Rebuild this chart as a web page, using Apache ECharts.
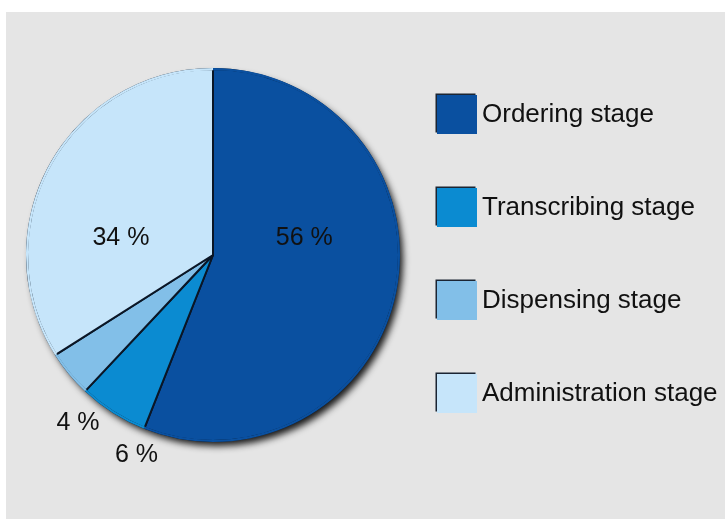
<!DOCTYPE html>
<html>
<head>
<meta charset="utf-8">
<script src="https://cdn.jsdelivr.net/npm/echarts@6/dist/echarts.min.js"></script>
<style>
  html, body { margin: 0; padding: 0; background: #ffffff; }
  #chart { width: 725px; height: 519px; }
</style>
</head>
<body>
<div id="chart"></div>
<script>
// Share of medication errors by stage of the medication process
const stages = ['Ordering stage', 'Transcribing stage', 'Dispensing stage', 'Administration stage'];
const shares = [56, 6, 4, 34];
const stageColors = ['#0a50a0', '#0b8bd1', '#82bfe8', '#c6e5fa'];

// label nudges (px) from the default inside-label anchor
const labelNudge = [[-3, -35], [-25, 119], [-61, 107], [-8, 29]];

const CENTER = [213, 255];
const R = 186;

const pieData = stages.map((name, i) => ({
  name: name,
  value: shares[i],
  itemStyle: { color: stageColors[i] }
}));

const chart = echarts.init(document.getElementById('chart'), null, { renderer: 'canvas' });

chart.setOption({
  animation: false,
  backgroundColor: '#ffffff',
  graphic: [{
    type: 'rect',
    z: -10,
    silent: true,
    shape: { x: 6, y: 12, width: 725, height: 519 },
    style: { fill: '#e5e5e5' }
  }],
  legend: {
    orient: 'vertical',
    left: 437,
    top: 95,
    padding: 0,
    itemWidth: 40,
    itemHeight: 39,
    itemGap: 54,
    icon: 'rect',
    data: stages,
    selectedMode: false,
    itemStyle: {
      borderWidth: 0,
      shadowBlur: 0,
      shadowColor: '#1b2533',
      shadowOffsetX: -1.5,
      shadowOffsetY: -1.5
    },
    textStyle: {
      fontFamily: 'Liberation Sans, Arial, sans-serif',
      fontSize: 26,
      color: '#111111'
    }
  },
  series: [
    {
      // drop shadow under the whole pie
      type: 'pie',
      silent: true,
      z: 1,
      center: CENTER,
      radius: [0, R],
      label: { show: false },
      labelLine: { show: false },
      emphasis: { disabled: true },
      data: [{
        value: 1,
        name: '',
        itemStyle: {
          color: '#222222',
          shadowBlur: 7,
          shadowColor: 'rgba(0,0,0,0.9)',
          shadowOffsetX: 4,
          shadowOffsetY: 5
        }
      }]
    },
    {
      type: 'pie',
      silent: true,
      z: 2,
      center: CENTER,
      radius: [0, R],
      startAngle: 90,
      clockwise: true,
      avoidLabelOverlap: false,
      emphasis: { disabled: true },
      itemStyle: { borderColor: '#0a1626', borderWidth: 2 },
      label: {
        show: true,
        position: 'inside',
        formatter: '{c} %',
        fontFamily: 'Liberation Sans, Arial, sans-serif',
        fontSize: 25,
        color: '#111111'
      },
      labelLine: { show: false },
      labelLayout: function (params) {
        const n = labelNudge[params.dataIndex];
        return { dx: n[0], dy: n[1] };
      },
      data: pieData
    },
    {
      // thin rim in slice colours over the outer arc outline
      type: 'pie',
      silent: true,
      z: 3,
      center: CENTER,
      radius: [R - 1.2, R + 1],
      startAngle: 90,
      clockwise: true,
      emphasis: { disabled: true },
      label: { show: false },
      labelLine: { show: false },
      itemStyle: { borderWidth: 0 },
      data: pieData
    }
  ]
});
</script>
</body>
</html>
